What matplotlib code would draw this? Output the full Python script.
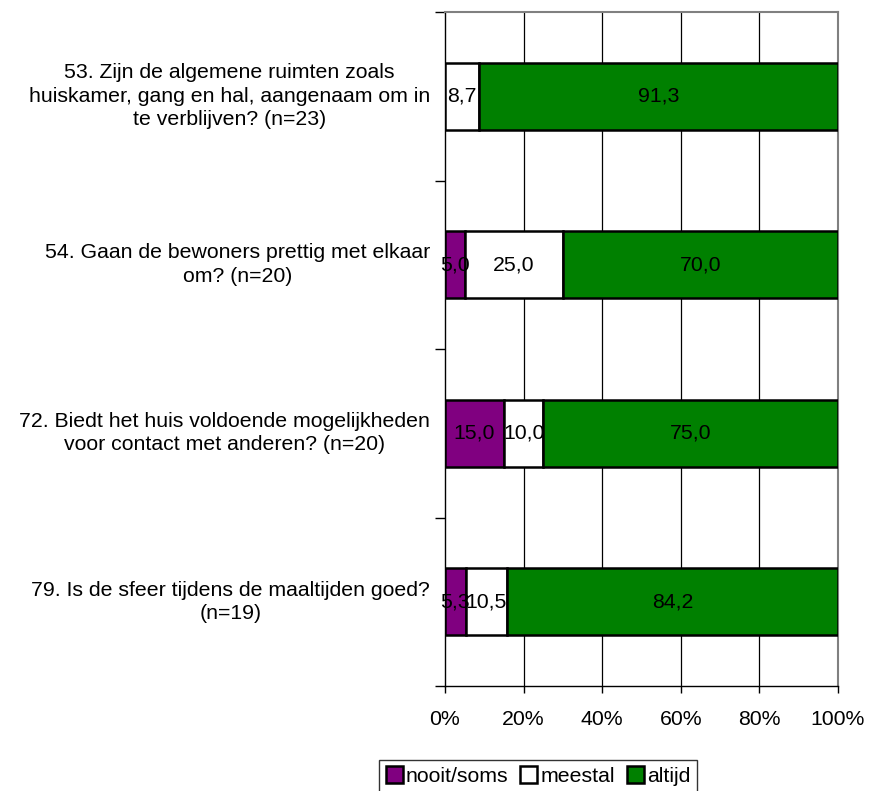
import matplotlib
matplotlib.use("Agg")
import matplotlib.pyplot as plt
from matplotlib.patches import Patch
import numpy as np

plt.rcParams['font.family'] = ['Liberation Sans', 'DejaVu Sans']

questions = [
    "53. Zijn de algemene ruimten zoals\nhuiskamer, gang en hal, aangenaam om in\nte verblijven? (n=23)",
    "54. Gaan de bewoners prettig met elkaar\nom? (n=20)",
    "72. Biedt het huis voldoende mogelijkheden\nvoor contact met anderen? (n=20)",
    "79. Is de sfeer tijdens de maaltijden goed?\n(n=19)",
]
series_names = ["nooit/soms", "meestal", "altijd"]
nooit_soms = [0.0, 5.0, 15.0, 5.3]
meestal = [8.7, 25.0, 10.0, 10.5]
altijd = [91.3, 70.0, 75.0, 84.2]
colors = ["#800080", "#ffffff", "#008000"]
x_ticks = [0, 20, 40, 60, 80, 100]
x_tick_labels = ["0%", "20%", "40%", "60%", "80%", "100%"]

FS = 15.3

fig = plt.figure(figsize=(8.7, 7.91), dpi=100)
ax = fig.add_axes([445 / 870, 1 - 686 / 791, 393 / 870, 674 / 791])

n = len(questions)
ypos = np.arange(n)
left = np.zeros(n)
for vals, col, name in zip([nooit_soms, meestal, altijd], colors, series_names):
    vals = np.array(vals)
    ax.barh(ypos, vals, left=left, height=0.4, color=col, edgecolor="black",
            linewidth=1.8, zorder=3, label=name)
    for y, l, v in zip(ypos, left, vals):
        if v > 0:
            ax.text(l + v / 2, y, f"{v:.1f}".replace(".", ","), ha="center",
                    va="center", fontsize=FS, zorder=4)
    left += vals

ax.set_xlim(0, 100)
ax.set_ylim(n - 0.5, -0.5)
ax.set_xticks(x_ticks)
ax.set_xticklabels(x_tick_labels, fontsize=FS)
ax.tick_params(axis="x", length=5, width=1, pad=12, color="black")
ax.set_yticks([])
ax.set_yticks(np.arange(-0.5, n + 0.5, 1), minor=True)
ax.tick_params(axis="y", which="minor", length=7, width=1, color="black")

for gx in x_ticks[1:-1]:
    ax.axvline(gx, color="black", linewidth=0.9, zorder=1)

for side in ["top", "right"]:
    ax.spines[side].set_color("#808080")
    ax.spines[side].set_linewidth(1.5)
for side in ["left", "bottom"]:
    ax.spines[side].set_color("black")
    ax.spines[side].set_linewidth(1.0)

offset = -15 / 393
for y, q in zip(ypos, questions):
    ax.text(offset, y, q, transform=ax.get_yaxis_transform(), ha="right",
            va="center", multialignment="center", fontsize=FS, linespacing=1.3)

handles = [Patch(facecolor=c, edgecolor="black", linewidth=1.8) for c in colors]
leg = fig.legend(handles, series_names, loc="upper center", bbox_to_anchor=(538 / 870, 1 - 760 / 791),
                 ncol=3, frameon=True, fontsize=FS, handlelength=0.8, handleheight=0.8,
                 handletextpad=0.15, columnspacing=0.55, borderpad=0.3, borderaxespad=0,
                 fancybox=False)
leg.get_frame().set_edgecolor("black")
leg.get_frame().set_linewidth(1.0)

fig.savefig("out.png", dpi=100)
